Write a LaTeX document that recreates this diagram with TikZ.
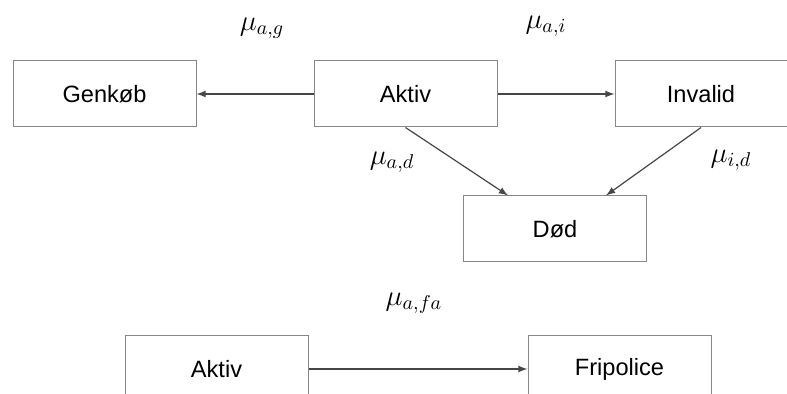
\documentclass[tikz,border=0pt]{standalone}
\usepackage{amsmath,amssymb}
\usepackage{fontspec}
\setmainfont{Liberation Sans}
\usepackage{tikz}
\usetikzlibrary{positioning}
\definecolor{boxgray}{RGB}{135,135,135}
\definecolor{arrowgray}{RGB}{70,70,70}

\begin{document}
\begin{tikzpicture}[
  statebox/.style={draw=boxgray,line width=0.5pt,minimum width=91.5pt,minimum height=33pt,font=\fontsize{11.8}{14}\selectfont},
  flow/.style={-latex,arrowgray,line width=0.6pt},
  ]
  \tikzset{%
    rate/.style={
      font=\fontsize{14.5}{16}\selectfont,
      inner sep=0pt,
    },
  }
  \useasboundingbox (0,0) rectangle (393.5pt,-197pt);
  %Nodes
  \node[statebox](gen) at (52.25pt,-47pt){Genkøb};
  \node[statebox,right=58.5pt of gen](akt){Aktiv};
  \node[statebox,minimum width=86pt,right=58.5pt of akt](inv){Invalid};
  \node[statebox,below=34pt of akt,xshift=74.75pt](dod){Død};
  \node[statebox,below=104pt of gen,xshift=56pt](akt2){Aktiv};
  \node[statebox,right=109.5pt of akt2](fri){Fripolice};
  %Labels
  \node[rate](lag) at (131pt,-14pt){$\mu_{a,g}$};
  \node[rate](lai) at (273pt,-13pt){$\mu_{a,i}$};
  \node[rate](lad) at (196pt,-81pt){$\mu_{a,d}$};
  \node[rate](lid) at (365.5pt,-80pt){$\mu_{i,d}$};
  \node[rate](lafa) at (207pt,-151.5pt){$\mu_{a,fa}$};
  %Lines
  \draw[-, auto]
    (akt) edge[flow] (gen)
    (akt) edge[flow] (inv)
    (akt.south) edge[flow] ([xshift=22.5pt]dod.north west)
    (inv.south) edge[flow] ([xshift=-20.5pt]dod.north east)
    (akt2) edge[flow] (fri)
    ;
\end{tikzpicture}
\end{document}
